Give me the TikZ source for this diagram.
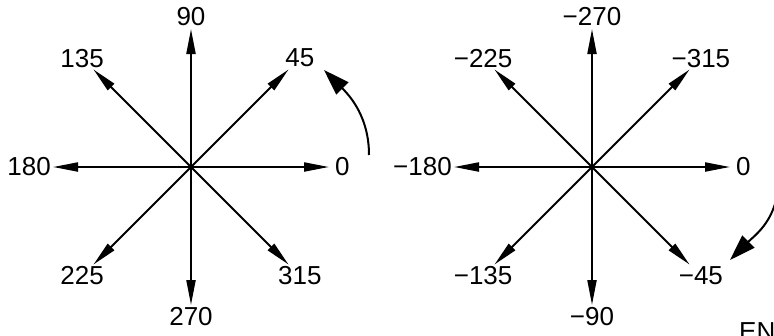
\documentclass[tikz,border=0pt]{standalone}
\usepackage{fontspec}
\setmainfont{Liberation Sans}
\usetikzlibrary{arrows.meta,calc}
\tikzset{
  >={Triangle[length=25pt,width=9pt]},
  ray/.style  ={->,line width=2pt},
  turn/.style ={-{Triangle[length=26pt,width=17pt]},line width=2pt},
  lbl/.style  ={font=\fontsize{26}{28}\selectfont,inner sep=0pt},
}

\begin{document}
\begin{tikzpicture}[x=1pt,y=1pt]
\clip (0,0) rectangle (774,-335);
% centres
\coordinate (cL) at (191,-167);
\coordinate (cR) at (592,-167);
% left rose
\foreach \a in {0,45,...,315}
  {\coordinate (tL\a) at ($(cL)+(\a:138)$);
   \draw[ray] (cL) -- (tL\a);}
\foreach \a/\t/\r in {45/45/154, 90/90/150, 135/135/154,
                      225/225/154, 270/270/150, 315/315/154}
  {\node[lbl] (nL\a) at ($(cL)+(\a:\r)$) {\t};}
\node[lbl,anchor=west] (nL0) at ($(tL0)+(6,0)$) {0};
\node[lbl,anchor=east] (nL180) at ($(tL180)+(-2,0)$) {180};
% right rose
\foreach \a in {0,45,...,315}
  {\coordinate (tR\a) at ($(cR)+(\a:138)$);
   \draw[ray] (cR) -- (tR\a);}
\foreach \a/\t/\r in {45/−315/154, 90/−270/150, 135/−225/154,
                      225/−135/154, 270/−90/150, 315/−45/154}
  {\node[lbl] (nR\a) at ($(cR)+(\a:\r)$) {\t};}
\node[lbl,anchor=west] (nR0) at ($(tR0)+(6,0)$) {0};
\node[lbl,anchor=east] (nR180) at ($(tR180)+(-2,0)$) {−180};
% sense of rotation
\coordinate (sL) at (369,-155);
\coordinate (eL) at (324,-70);
\draw[turn] (sL) to[out=90,in=-45] (eL);
\coordinate (sR) at (778,-188);
\coordinate (eR) at (730,-260);
\draw[turn] (sR) to[out=-95,in=45] (eR);
\node[lbl,anchor=north west] (enu) at (739,-322) {ENU};
\end{tikzpicture}
\end{document}
